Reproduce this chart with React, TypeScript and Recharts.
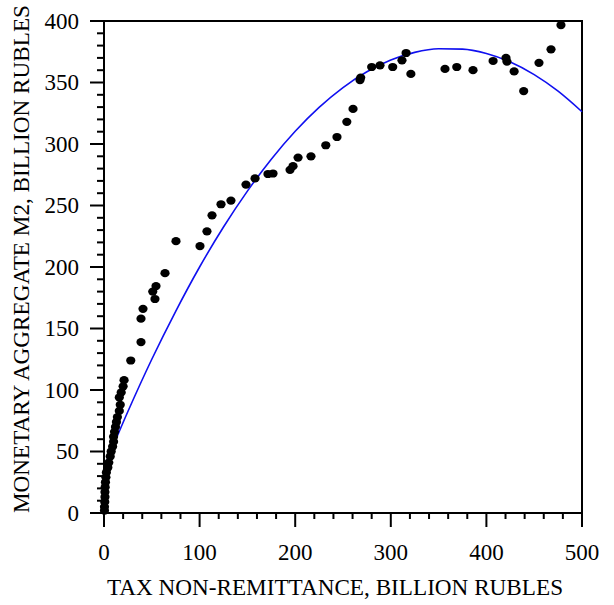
import React from 'react'
import { ComposedChart, Scatter, Line, XAxis, YAxis, ReferenceArea, Label } from 'recharts'

// observed points: tax non-remittance vs. M2 (billion rubles)
const arrearsX = [
  0.5, 0.5, 0.8, 1, 1, 1.2, 1.5, 2, 2.5, 4, 5, 6.5, 7.5, 9, 10, 10, 11, 12, 13, 14,
  16, 17, 16, 18, 20, 21, 28, 38.7, 38.7, 40.8, 53.3, 51, 54.4, 63.8, 75.3, 100.4, 107.7,
  113, 122.4, 132.8, 148.5, 158, 171.5, 176.8, 194.6, 197.7, 203, 216.5, 232, 243.7,
  254, 260.5, 267.8, 268.5, 280, 288.7, 302, 311.7, 316, 321, 356.7, 369, 386, 407,
  420.5, 421.5, 429, 439, 455, 467.6, 478,
]
const moneyM2 = [
  2, 5, 9, 13, 17, 21, 25, 29, 33, 37, 41, 46, 50, 54, 58, 62, 66, 70, 74, 78,
  83, 88, 94, 98, 103, 108, 124, 139, 158, 166, 174, 180, 184.5, 195, 221, 217, 229,
  242, 251, 254, 267, 272, 275.6, 276, 279, 282, 289, 290, 299, 305.7,
  318, 328.5, 352, 354, 362.6, 364, 362.6, 368, 374, 357, 361, 362.6, 360, 367.5,
  370, 367, 359, 343, 366, 377, 396.7,
]

// fitted trend curve
const trendX = [0, 25, 50, 75, 100, 125, 150, 175, 200, 225, 250, 275, 300, 325, 350, 375, 400, 425, 450, 475, 500]
const trendY = [36.9, 82.5, 125, 164, 200, 232.5, 261.7, 287.7, 310.4, 329.8, 345.9, 358.7, 368.2, 374.5, 377.4, 377.1, 373.5, 366.6, 356.4, 342.9, 326.2]

const xLabels = [0, 100, 200, 300, 400, 500]
const xTicks = [0, 20, 40, 60, 80, 100, 120, 140, 160, 180, 200, 220, 240, 260, 280, 300, 320, 340, 360, 380, 400, 420, 440, 460, 480, 500]
const yLabels = [0, 50, 100, 150, 200, 250, 300, 350, 400]
const yTicks = [
  0, 10, 20, 30, 40, 50, 60, 70, 80, 90, 100, 110, 120, 130, 140, 150, 160, 170, 180, 190, 200,
  210, 220, 230, 240, 250, 260, 270, 280, 290, 300, 310, 320, 330, 340, 350, 360, 370, 380, 390, 400,
]

const points = arrearsX.map((x, i) => ({ x, y: moneyM2[i] }))
const trend = trendX.map((x, i) => ({ x, y: trendY[i] }))

const FONT = '"Liberation Serif", "Times New Roman", serif'

const XTick = ({ x, y, payload }: any) => {
  const major = xLabels.includes(payload.value)
  return (
    <g>
      <line x1={x} x2={x} y1={y} y2={y + (major ? 14 : 6)} stroke="#000" strokeWidth={2} />
      {major && (
        <text x={x} y={y + 47} textAnchor="middle" fontFamily={FONT} fontSize={23} fill="#000">
          {payload.value}
        </text>
      )}
    </g>
  )
}

const YTick = ({ x, y, payload }: any) => {
  const major = yLabels.includes(payload.value)
  return (
    <g>
      <line x1={x} x2={x - (major ? 14 : 7)} y1={y} y2={y} stroke="#000" strokeWidth={2} />
      {major && (
        <text x={x - 25} y={y + 7.5} textAnchor="end" fontFamily={FONT} fontSize={23} fill="#000">
          {payload.value}
        </text>
      )}
    </g>
  )
}

const Dot = ({ cx, cy }: any) => <ellipse cx={cx} cy={cy} rx={4.6} ry={4.1} fill="#000" />

export default function App() {
  return (
    <div style={{ position: 'absolute', left: 0, top: 0, background: '#fff' }}>
      <ComposedChart width={614} height={605} margin={{ top: 21, right: 32, left: 0, bottom: 0 }}>
        <XAxis
          type="number"
          dataKey="x"
          domain={[0, 500]}
          ticks={xTicks}
          interval={0}
          tick={<XTick />}
          tickLine={false}
          tickSize={0}
          tickMargin={0}
          height={92}
          axisLine={{ stroke: '#000', strokeWidth: 2 }}
        >
          <Label
            content={() => (
              <text x={335} y={595} textAnchor="middle" fontFamily={FONT} fontSize={23.2} fill="#000">
                TAX NON-REMITTANCE, BILLION RUBLES
              </text>
            )}
          />
        </XAxis>
        <YAxis
          type="number"
          dataKey="y"
          domain={[0, 400]}
          ticks={yTicks}
          interval={0}
          tick={<YTick />}
          tickLine={false}
          tickSize={0}
          tickMargin={0}
          width={104}
          axisLine={{ stroke: '#000', strokeWidth: 2 }}
        >
          <Label
            content={() => (
              <text
                x={29}
                y={259}
                transform="rotate(-90 29 259)"
                textAnchor="middle"
                fontFamily={FONT}
                fontSize={23.2}
                fill="#000"
              >
                MONETARY AGGREGATE M2, BILLION RUBLES
              </text>
            )}
          />
        </YAxis>
        <ReferenceArea x1={0} x2={500} y1={0} y2={400} fill="none" stroke="#000" strokeWidth={2} ifOverflow="visible" />
        <Line
          data={trend}
          dataKey="y"
          type="monotone"
          stroke="#1010f0"
          strokeWidth={1.6}
          dot={false}
          activeDot={false}
          isAnimationActive={false}
        />
        <Scatter data={points} dataKey="y" shape={<Dot />} isAnimationActive={false} />
      </ComposedChart>
    </div>
  )
}
